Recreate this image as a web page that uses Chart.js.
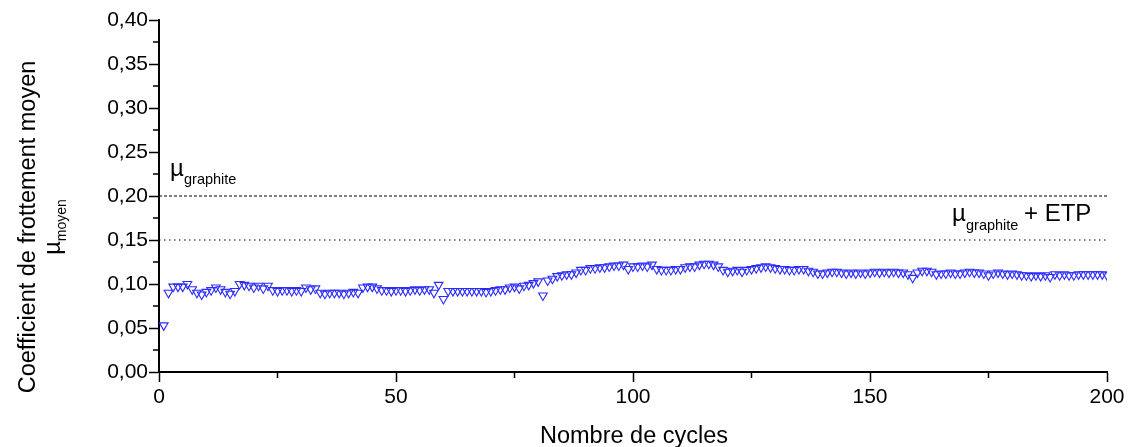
<!DOCTYPE html>
<html>
<head>
<meta charset="utf-8">
<script src="https://cdn.jsdelivr.net/npm/chart.js@4/dist/chart.umd.min.js"></script>
<style>
html, body { margin: 0; padding: 0; background: #fff; }
#wrap { width: 1132px; height: 447px; }
</style>
</head>
<body>
<div id="wrap"><canvas id="chart" width="1132" height="447"></canvas></div>
<script>
// mean friction coefficient, one value per cycle (cycle 1 .. 200)
const frictionValues = [
  0.053, 0.090, 0.097, 0.097, 0.097, 0.100, 0.094, 0.090, 0.088, 0.091,
  0.093, 0.096, 0.094, 0.091, 0.089, 0.092, 0.100, 0.099, 0.098, 0.096,
  0.098, 0.095, 0.098, 0.093, 0.092, 0.093, 0.093, 0.092, 0.093, 0.092,
  0.096, 0.094, 0.095, 0.090, 0.089, 0.090, 0.090, 0.090, 0.089, 0.090,
  0.091, 0.090, 0.096, 0.097, 0.097, 0.095, 0.093, 0.093, 0.092, 0.093,
  0.093, 0.092, 0.093, 0.094, 0.093, 0.094, 0.094, 0.090, 0.099, 0.083,
  0.092, 0.092, 0.092, 0.092, 0.092, 0.092, 0.092, 0.092, 0.091, 0.092,
  0.093, 0.094, 0.094, 0.096, 0.097, 0.095, 0.098, 0.099, 0.101, 0.103,
  0.087, 0.104, 0.106, 0.109, 0.110, 0.111, 0.111, 0.113, 0.116, 0.116,
  0.118, 0.118, 0.119, 0.119, 0.120, 0.121, 0.121, 0.122, 0.117, 0.120,
  0.120, 0.121, 0.120, 0.122, 0.117, 0.116, 0.116, 0.116, 0.117, 0.117,
  0.119, 0.120, 0.120, 0.122, 0.123, 0.123, 0.122, 0.120, 0.116, 0.114,
  0.115, 0.116, 0.114, 0.116, 0.117, 0.118, 0.119, 0.120, 0.119, 0.118,
  0.117, 0.117, 0.116, 0.116, 0.117, 0.117, 0.115, 0.114, 0.112, 0.112,
  0.113, 0.114, 0.114, 0.113, 0.112, 0.113, 0.112, 0.113, 0.112, 0.113,
  0.114, 0.113, 0.114, 0.113, 0.114, 0.113, 0.113, 0.111, 0.107, 0.113,
  0.115, 0.115, 0.114, 0.111, 0.112, 0.112, 0.113, 0.112, 0.112, 0.113,
  0.114, 0.113, 0.113, 0.112, 0.110, 0.112, 0.113, 0.112, 0.111, 0.112,
  0.111, 0.110, 0.110, 0.109, 0.110, 0.109, 0.110, 0.108, 0.111, 0.110,
  0.111, 0.110, 0.110, 0.111, 0.111, 0.111, 0.111, 0.111, 0.111, 0.110
];
const firstCycle = 1;

// reference levels drawn as horizontal lines
const graphiteLevel = 0.20;
const graphiteEtpLevel = 0.15;
const xRange = [0, 200];
const yRange = [0, 0.40];

const xMajorStep = 50;
const xMinorTicks = [25, 75, 125, 175];
const yMajorStep = 0.05;
const yMinorTicks = [0.025, 0.075, 0.125, 0.175, 0.225, 0.275, 0.325, 0.375];

const fontName = "'Liberation Sans', Arial, sans-serif";

let points = [];
for (let i = 0; i < frictionValues.length; i++) {
  points.push({ x: firstCycle + i, y: frictionValues[i] });
}

const textPlugin = {
  id: "texts",
  afterDraw(chart) {
    const ctx = chart.ctx;
    const xs = chart.scales.x;
    const ys = chart.scales.y;

    // minor ticks
    ctx.save();
    ctx.strokeStyle = "#000";
    ctx.lineWidth = 1.5;
    ctx.beginPath();
    for (let i = 0; i < xMinorTicks.length; i++) {
      let px = xs.getPixelForValue(xMinorTicks[i]);
      ctx.moveTo(px, ys.bottom);
      ctx.lineTo(px, ys.bottom + 6);
    }
    for (let i = 0; i < yMinorTicks.length; i++) {
      let py = ys.getPixelForValue(yMinorTicks[i]);
      ctx.moveTo(xs.left, py);
      ctx.lineTo(xs.left - 6, py);
    }
    ctx.stroke();
    ctx.restore();

    ctx.save();
    ctx.fillStyle = "#000";

    // x title
    ctx.font = "23.5px " + fontName;
    ctx.textAlign = "center";
    ctx.textBaseline = "alphabetic";
    ctx.fillText("Nombre de cycles", 634, 443);

    // y title, two lines, rotated
    ctx.save();
    ctx.translate(35, 227);
    ctx.rotate(-Math.PI / 2);
    ctx.textAlign = "center";
    ctx.font = "23.5px " + fontName;
    ctx.fillText("Coefficient de frottement moyen", 0, 0);
    let muW = ctx.measureText("\u00b5").width;
    ctx.font = "14px " + fontName;
    let subW = ctx.measureText("moyen").width;
    let start = -(muW + subW) / 2;
    ctx.textAlign = "left";
    ctx.font = "23.5px " + fontName;
    ctx.fillText("\u00b5", start, 25);
    ctx.font = "14px " + fontName;
    ctx.fillText("moyen", start + muW, 31);
    ctx.restore();

    // annotation near the 0.20 line
    ctx.textAlign = "left";
    ctx.font = "24px " + fontName;
    ctx.fillText("\u00b5", 170, 176);
    ctx.font = "14.5px " + fontName;
    ctx.fillText("graphite", 184, 184);

    // annotation near the 0.15 line
    ctx.font = "24px " + fontName;
    ctx.fillText("\u00b5", 952, 221);
    ctx.font = "14.5px " + fontName;
    ctx.fillText("graphite", 966, 230);
    ctx.font = "24px " + fontName;
    ctx.fillText("+ ETP", 1024, 221);
    ctx.restore();
  }
};

new Chart(document.getElementById("chart"), {
  type: "scatter",
  data: {
    datasets: [
      {
        label: "graphite",
        data: [{ x: xRange[0], y: graphiteLevel }, { x: xRange[1], y: graphiteLevel }],
        showLine: true,
        borderColor: "#000",
        borderWidth: 1,
        borderDash: [3, 2],
        pointRadius: 0
      },
      {
        label: "graphite + ETP",
        data: [{ x: xRange[0], y: graphiteEtpLevel }, { x: xRange[1], y: graphiteEtpLevel }],
        showLine: true,
        borderColor: "#000",
        borderWidth: 1,
        borderDash: [1.5, 3.5],
        pointRadius: 0
      },
      {
        label: "mu moyen",
        data: points,
        showLine: false,
        pointStyle: "triangle",
        rotation: 180,
        pointRadius: 5,
        pointBorderWidth: 1.1,
        borderColor: "#2b2bff",
        backgroundColor: "rgba(255,255,255,0)",
        pointBackgroundColor: "rgba(255,255,255,0)"
      }
    ]
  },
  options: {
    responsive: false,
    animation: false,
    devicePixelRatio: 1,
    layout: { padding: { top: 20, right: 25, left: 0, bottom: 0 } },
    plugins: {
      legend: { display: false },
      tooltip: { enabled: false }
    },
    scales: {
      x: {
        type: "linear",
        min: xRange[0],
        max: xRange[1],
        afterFit: function(scale) { scale.height = 75; },
        border: { display: true, color: "#000", width: 2 },
        grid: { drawOnChartArea: false, drawTicks: true, tickLength: 10, tickColor: "#000", tickWidth: 1.5 },
        ticks: {
          stepSize: xMajorStep,
          color: "#000",
          padding: 3,
          maxRotation: 0,
          font: { family: fontName, size: 21 }
        }
      },
      y: {
        min: yRange[0],
        max: yRange[1],
        afterFit: function(scale) { scale.width = 159; },
        border: { display: true, color: "#000", width: 2 },
        grid: { drawOnChartArea: false, drawTicks: true, tickLength: 10, tickColor: "#000", tickWidth: 1.5 },
        ticks: {
          stepSize: yMajorStep,
          color: "#000",
          padding: 1,
          font: { family: fontName, size: 21 },
          callback: function(v) { return v.toFixed(2).replace(".", ","); }
        }
      }
    }
  },
  plugins: [textPlugin]
});
</script>
</body>
</html>
